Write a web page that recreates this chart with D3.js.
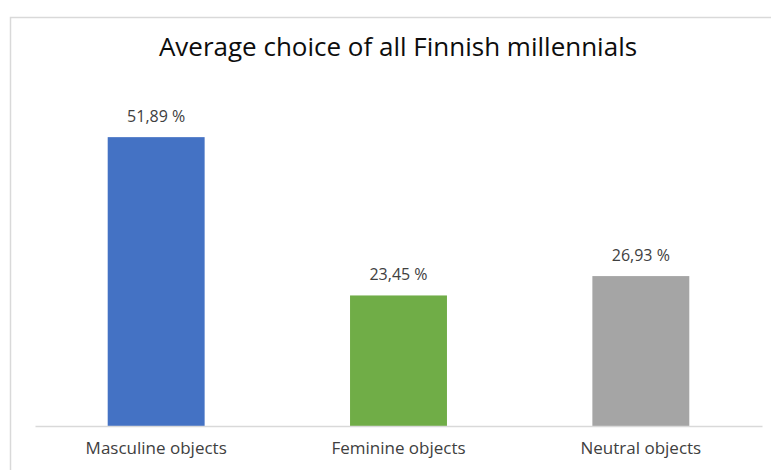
<!DOCTYPE html>
<html>
<head>
<meta charset="utf-8">
<script src="https://cdn.jsdelivr.net/npm/d3@7"></script>
<style>
  html, body { margin: 0; padding: 0; background: #fff; }
  svg { display: block; }
  text { font-family: "Open Sans", "Noto Sans", sans-serif; }
</style>
</head>
<body>
<svg id="chart" width="771" height="470"></svg>
<script>
// Share of choices per object type (percent)
const categories = ["Masculine objects", "Feminine objects", "Neutral objects"];
const values = [51.89, 23.45, 26.93];
const colors = ["#4472c4", "#70ad47", "#a5a5a5"];
const title = "Average choice of all Finnish millennials";

const svg = d3.select("#chart");
const W = 771, H = 470;

// chart frame
svg.append("rect")
  .attr("x", 10.5).attr("y", 17.5)
  .attr("width", W + 20).attr("height", H + 20)
  .attr("fill", "#fff")
  .attr("stroke", "#d9d9d9").attr("stroke-width", 1.5);

const plot = { left: 35, right: 762, top: 92, bottom: 426 };

const x = d3.scaleBand()
  .domain(categories)
  .range([plot.left, plot.right])
  .paddingInner(0.6)
  .paddingOuter(0.3);

const y = d3.scaleLinear()
  .domain([0, 60])
  .range([plot.bottom, plot.top]);

const data = categories.map((c, i) => ({ cat: c, value: values[i], color: colors[i] }));

svg.append("g")
  .selectAll("rect")
  .data(data)
  .join("rect")
  .attr("x", d => x(d.cat))
  .attr("y", d => y(d.value))
  .attr("width", x.bandwidth())
  .attr("height", d => y(0) - y(d.value))
  .attr("fill", d => d.color);

// category axis
const axis = svg.append("g")
  .attr("transform", `translate(0,${plot.bottom})`)
  .call(d3.axisBottom(x).tickSize(0).tickPadding(16));
axis.select(".domain").attr("stroke", "#d9d9d9").attr("stroke-width", 1.5);
axis.selectAll(".tick text")
  .attr("fill", "#404040")
  .style("font-size", "17px")
  .style("font-family", "\"Open Sans\", sans-serif");

// value labels
const fmt = v => d3.format(".2f")(v).replace(".", ",") + " %";
svg.append("g")
  .selectAll("text")
  .data(data)
  .join("text")
  .attr("x", d => x(d.cat) + x.bandwidth() / 2)
  .attr("y", d => y(d.value) - 15)
  .attr("text-anchor", "middle")
  .attr("fill", "#404040")
  .style("font-size", "16px")
  .text(d => fmt(d.value));

svg.append("text")
  .attr("x", 398)
  .attr("y", 56)
  .attr("text-anchor", "middle")
  .attr("fill", "#0d0d0d")
  .style("font-size", "26px")
  .text(title);
</script>
</body>
</html>
